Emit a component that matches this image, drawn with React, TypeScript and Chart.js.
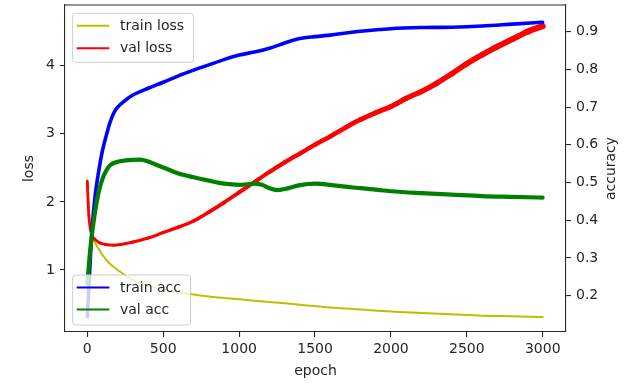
import React, { useEffect, useRef } from "react";
import { Chart, registerables } from "chart.js";

Chart.register(...registerables);

// ---- data ----
const TRAIN_LOSS_EPOCHS = [0, 5, 10, 20, 30, 50, 75, 100, 140, 200, 250, 300, 400, 500, 600, 700, 800, 900, 1000, 1200, 1400, 1600, 1800, 2000, 2200, 2400, 2600, 2800, 2999];
const TRAIN_LOSS = [2.32, 2.05, 1.85, 1.62, 1.5, 1.4, 1.31, 1.22, 1.11, 1.0, 0.92, 0.85, 0.77, 0.71, 0.67, 0.64, 0.61, 0.59, 0.57, 0.53, 0.49, 0.45, 0.42, 0.39, 0.37, 0.35, 0.33, 0.32, 0.31];

const VAL_LOSS_EPOCHS = [0, 5, 10, 20, 30, 50, 80, 120, 170, 220, 300, 400, 500, 600, 700, 800, 900, 1000, 1100, 1200, 1300, 1400, 1500, 1600, 1700, 1800, 1900, 2000, 2100, 2200, 2300, 2400, 2500, 2600, 2700, 2800, 2900, 2999];
const VAL_LOSS = [2.3, 2.0, 1.8, 1.6, 1.51, 1.45, 1.4, 1.375, 1.365, 1.375, 1.41, 1.47, 1.55, 1.63, 1.72, 1.85, 1.99, 2.14, 2.29, 2.44, 2.58, 2.71, 2.84, 2.96, 3.09, 3.21, 3.31, 3.4, 3.52, 3.62, 3.74, 3.88, 4.03, 4.16, 4.28, 4.39, 4.5, 4.58];

const TRAIN_ACC_EPOCHS = [0, 10, 20, 30, 50, 75, 100, 125, 150, 175, 200, 250, 300, 400, 500, 600, 700, 800, 900, 1000, 1100, 1200, 1300, 1400, 1500, 1600, 1800, 2000, 2200, 2400, 2600, 2800, 2999];
const TRAIN_ACC = [0.144, 0.22, 0.3, 0.37, 0.46, 0.53, 0.585, 0.625, 0.66, 0.685, 0.7, 0.718, 0.732, 0.75, 0.766, 0.783, 0.798, 0.812, 0.826, 0.838, 0.846, 0.856, 0.87, 0.882, 0.887, 0.891, 0.901, 0.908, 0.911, 0.912, 0.915, 0.92, 0.925];

const VAL_ACC_EPOCHS = [0, 10, 20, 30, 50, 75, 100, 125, 150, 200, 300, 350, 400, 450, 500, 600, 700, 800, 900, 1000, 1100, 1150, 1200, 1250, 1300, 1400, 1500, 1600, 1700, 1800, 1900, 2000, 2200, 2400, 2600, 2800, 2999];
const VAL_ACC = [0.23, 0.28, 0.325, 0.36, 0.42, 0.475, 0.51, 0.532, 0.546, 0.555, 0.56, 0.561, 0.556, 0.548, 0.54, 0.524, 0.514, 0.505, 0.497, 0.494, 0.497, 0.494, 0.485, 0.48, 0.483, 0.493, 0.497, 0.494, 0.489, 0.485, 0.481, 0.477, 0.472, 0.468, 0.464, 0.462, 0.46];

const X_TICKS = [0, 500, 1000, 1500, 2000, 2500, 3000];
const LOSS_TICKS = [1, 2, 3, 4];
const ACC_TICKS = [0.2, 0.3, 0.4, 0.5, 0.6, 0.7, 0.8, 0.9];

// ---- styling ----
const FONT = { family: "'DejaVu Sans', sans-serif", size: 14 };
const TEXT = "#262626";
const SPINE = "#2a2a2a";

const toPoints = (xs: number[], ys: number[]) => xs.map((x, i) => ({ x, y: ys[i] }));

function drawLegend(ctx: CanvasRenderingContext2D, items: { label: string; color: string }[], left: number, top: number, rowStep: number, height: number) {
  ctx.save();
  ctx.font = "14px 'DejaVu Sans', sans-serif";
  const textX = left + 47.3;
  const maxW = Math.max(...items.map((it) => ctx.measureText(it.label).width));
  const w = textX + maxW + 9.5 - left;
  const r = 3;
  ctx.beginPath();
  ctx.moveTo(left + r, top);
  ctx.lineTo(left + w - r, top);
  ctx.arcTo(left + w, top, left + w, top + r, r);
  ctx.lineTo(left + w, top + height - r);
  ctx.arcTo(left + w, top + height, left + w - r, top + height, r);
  ctx.lineTo(left + r, top + height);
  ctx.arcTo(left, top + height, left, top + height - r, r);
  ctx.lineTo(left, top + r);
  ctx.arcTo(left, top, left + r, top, r);
  ctx.closePath();
  ctx.fillStyle = "rgba(255,255,255,0.8)";
  ctx.fill();
  ctx.strokeStyle = "#cccccc";
  ctx.lineWidth = 1;
  ctx.stroke();
  items.forEach((it, i) => {
    const y = top + 12.4 + i * rowStep;
    ctx.beginPath();
    ctx.moveTo(left + 4, y);
    ctx.lineTo(left + 36.6, y);
    ctx.strokeStyle = it.color;
    ctx.lineWidth = 2;
    ctx.stroke();
    ctx.fillStyle = TEXT;
    ctx.textBaseline = "middle";
    ctx.textAlign = "left";
    ctx.fillText(it.label, textX, y + 0.5);
  });
  ctx.restore();
}

const overlayPlugin = {
  id: "overlay",
  afterDraw(chart: any) {
    const { ctx, chartArea: a } = chart;
    // top spine
    ctx.save();
    ctx.strokeStyle = SPINE;
    ctx.lineWidth = 1.1;
    ctx.beginPath();
    ctx.moveTo(a.left, a.top);
    ctx.lineTo(a.right, a.top);
    ctx.stroke();
    // right axis title (reads bottom-to-top)
    ctx.translate(611.5, (a.top + a.bottom) / 2);
    ctx.rotate(-Math.PI / 2);
    ctx.font = "14px 'DejaVu Sans', sans-serif";
    ctx.fillStyle = TEXT;
    ctx.textAlign = "center";
    ctx.textBaseline = "middle";
    ctx.fillText("accuracy", 0, 0);
    ctx.restore();

    const ds = chart.data.datasets;
    const byGroup = (g: string) =>
      ds.filter((d: any) => d.group === g).sort((p: any, q: any) => p.legendIndex - q.legendIndex).map((d: any) => ({ label: d.label, color: d.borderColor }));
    drawLegend(ctx, byGroup("loss"), a.left + 7.7, a.top + 8.3, 22.6, 49);
    drawLegend(ctx, byGroup("acc"), a.left + 7.7, 275, 22, 50);
  },
};

export default function App() {
  const ref = useRef<HTMLCanvasElement | null>(null);

  useEffect(() => {
    document.body.style.margin = "0";
    const canvas = ref.current;
    if (!canvas) return;
    const tickGrid = { drawOnChartArea: false, drawTicks: true, tickLength: 5, color: SPINE, tickColor: SPINE, lineWidth: 1.1, tickWidth: 1.1 };
    const border = { display: true, color: SPINE, width: 1.1 };
    const noPad = (s: any) => {
      s.paddingTop = 0;
      s.paddingBottom = 0;
      s.paddingLeft = 0;
      s.paddingRight = 0;
    };
    const chart = new Chart(canvas, {
      type: "line",
      data: {
        datasets: [
          {
            label: "val acc",
            group: "acc",
            legendIndex: 1,
            data: toPoints(VAL_ACC_EPOCHS, VAL_ACC),
            borderColor: "#008000",
            borderWidth: 4.2,
            yAxisID: "y1",
            order: 0,
          },
          {
            label: "train acc",
            group: "acc",
            legendIndex: 0,
            data: toPoints(TRAIN_ACC_EPOCHS, TRAIN_ACC),
            borderColor: "#0000ff",
            borderWidth: 3.6,
            yAxisID: "y1",
            order: 1,
          },
          {
            label: "val loss",
            group: "loss",
            legendIndex: 1,
            data: toPoints(VAL_LOSS_EPOCHS, VAL_LOSS),
            borderColor: "#ff0000",
            borderWidth: 3,
            segment: { borderWidth: (c: any) => 2.8 + (3.4 * c.p0.parsed.x) / 3000 },
            yAxisID: "y",
            order: 2,
          },
          {
            label: "train loss",
            group: "loss",
            legendIndex: 0,
            data: toPoints(TRAIN_LOSS_EPOCHS, TRAIN_LOSS),
            borderColor: "#bfbf00",
            borderWidth: 2,
            yAxisID: "y",
            order: 3,
          },
        ] as any,
      },
      options: {
        animation: false,
        responsive: false,
        parsing: false as any,
        layout: { padding: { top: 5, left: 0, right: 0, bottom: 0 } },
        elements: {
          point: { radius: 0 },
          line: { cubicInterpolationMode: "monotone", borderJoinStyle: "round", borderCapStyle: "round", fill: false },
        },
        plugins: { legend: { display: false }, tooltip: { enabled: false } },
        scales: {
          x: {
            type: "linear",
            min: -147,
            max: 3153,
            afterBuildTicks: (s: any) => {
              s.ticks = X_TICKS.map((v) => ({ value: v }));
            },
            afterFit: (s: any) => {
              s.height = 57;
              noPad(s);
            },
            grid: tickGrid,
            border,
            ticks: { font: FONT, color: TEXT, padding: 4, maxRotation: 0, autoSkip: false, callback: (v: any) => String(v) },
            title: { display: true, text: "epoch", font: FONT, color: TEXT, padding: { top: 0, bottom: 9 } },
          },
          y: {
            type: "linear",
            position: "left",
            min: 0.0896,
            max: 4.891,
            afterBuildTicks: (s: any) => {
              s.ticks = LOSS_TICKS.map((v) => ({ value: v }));
            },
            afterFit: (s: any) => {
              s.width = 65;
              noPad(s);
            },
            grid: tickGrid,
            border,
            ticks: { font: FONT, color: TEXT, padding: 5, autoSkip: false, callback: (v: any) => String(v) },
            title: { display: true, text: "loss", font: FONT, color: TEXT, padding: { top: 20.6, bottom: 0 } },
          },
          y1: {
            type: "linear",
            position: "right",
            min: 0.1037,
            max: 0.9708,
            afterBuildTicks: (s: any) => {
              s.ticks = ACC_TICKS.map((v) => ({ value: v }));
            },
            afterFit: (s: any) => {
              s.width = 71;
              noPad(s);
            },
            grid: tickGrid,
            border,
            ticks: { font: FONT, color: TEXT, padding: 5, autoSkip: false, callback: (v: any) => Number(v).toFixed(1) },
          },
        },
      } as any,
      plugins: [overlayPlugin],
    });
    return () => chart.destroy();
  }, []);

  return (
    <div style={{ width: 637, height: 389, position: "relative" }}>
      <canvas ref={ref} width={637} height={389} style={{ display: "block", width: 637, height: 389 }} />
    </div>
  );
}
